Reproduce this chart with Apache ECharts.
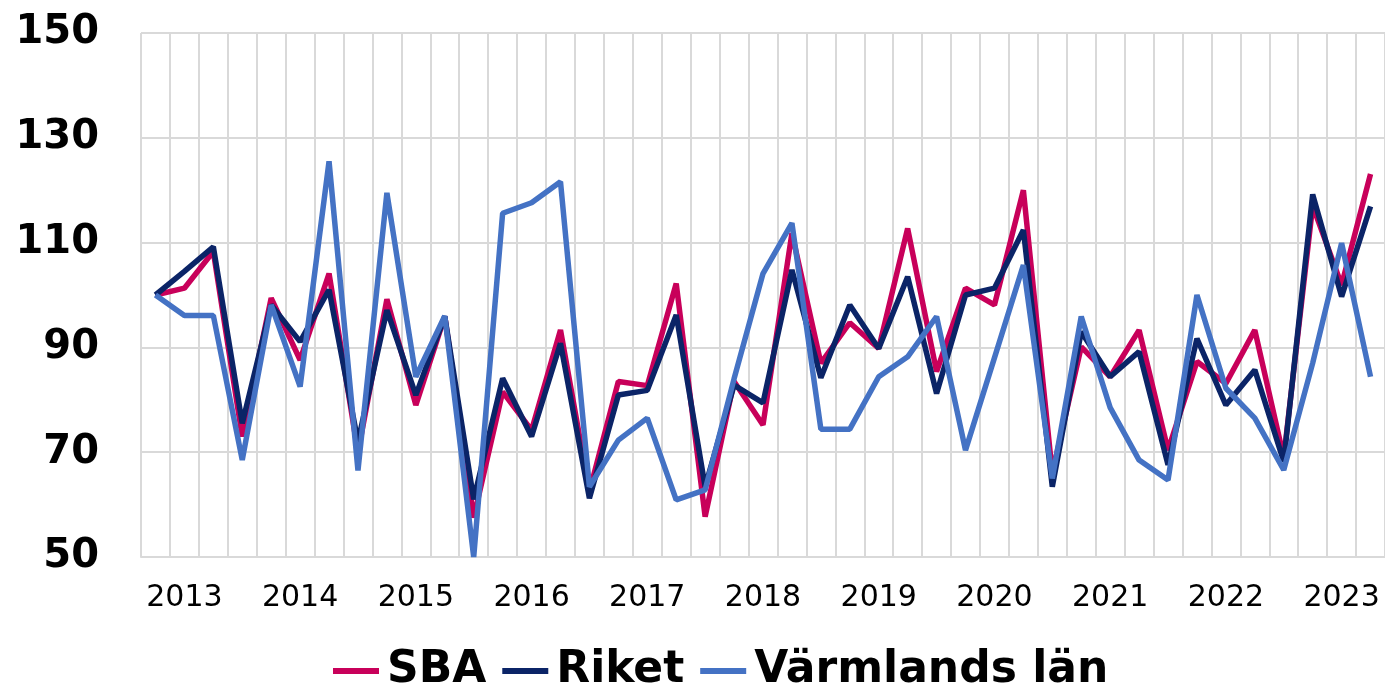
<!DOCTYPE html>
<html>
<head>
<meta charset="utf-8">
<script src="https://cdn.jsdelivr.net/npm/echarts@6/dist/echarts.min.js"></script>
<style>
html, body { margin: 0; padding: 0; background: #fff; }
#chart { width: 1385px; height: 690px; }
</style>
</head>
<body>
<div id="chart"></div>
<script>
// kvartal 2013 K1 - 2023 K3
const years = ['2013', '2014', '2015', '2016', '2017', '2018', '2019', '2020', '2021', '2022', '2023'];
const quartersInLastYear = 3;

const sba = [100, 101.3, 108.3, 73, 99.4, 87.6, 104.1, 70, 99.2, 79, 95.9, 57.5,
	81.5, 74.2, 93.3, 62.5, 83.5, 82.7, 102.2, 57.7, 83.5, 75.2, 111.8, 87,
	94.7, 89.8, 112.7, 85.4, 101.3, 98.1, 120, 66, 90.1, 84.4, 93.3, 70.4,
	87.3, 83.1, 93.3, 69, 117, 101.9, 123.1];
const riket = [100, 104.5, 109.2, 75.5, 98.1, 91.1, 101, 72, 97.1, 80.9, 95.9, 61,
	84.1, 73, 90.8, 61.2, 80.9, 81.8, 96.2, 63.4, 82.8, 79.4, 104.8, 84.2,
	98.1, 89.8, 103.5, 81.2, 100, 101.3, 112.4, 63.4, 93, 84.4, 89.2, 67.6,
	91.7, 79, 85.7, 68.2, 119.2, 99.7, 116.9];
const varmland = [100, 96.1, 96.1, 68.5, 98.1, 82.5, 125.5, 66.5, 119.5, 84.4, 96, 50,
	115.6, 117.6, 121.6, 63.4, 72.3, 76.5, 60.9, 62.8, 84, 104.1, 113.7, 74.4,
	74.4, 84.4, 88.2, 95.9, 70.4, 88, 105.7, 65, 95.9, 78.5, 68.5, 64.7,
	100, 82.2, 76.5, 66.6, 87, 109.9, 84.4];

const categories = [];
years.forEach((y, i) => {
	const n = i === years.length - 1 ? quartersInLastYear : 4;
	for (let q = 1; q <= n; q++) categories.push(y + ' K' + q);
});

const font = '"DejaVu Sans", sans-serif';
const gridColor = '#d9d9d9';

var myChart = echarts.init(document.getElementById('chart'));
let option = {
	animation: false,
	textStyle: { fontFamily: font },
	grid: {
		left: 141,
		right: 0,
		top: 33,
		bottom: 133,
		containLabel: false
	},
	legend: {
		top: 644,
		left: 328,
		icon: 'rect',
		itemWidth: 46,
		itemHeight: 6,
		itemGap: 16,
		textStyle: {
			fontFamily: font,
			fontSize: 44,
			fontWeight: 'bold',
			color: '#000',
			padding: [0, 0, 0, 3]
		}
	},
	xAxis: {
		type: 'category',
		data: categories,
		boundaryGap: true,
		axisLine: { show: true, lineStyle: { color: gridColor, width: 2 } },
		axisTick: { show: false },
		splitLine: { show: true, interval: 0, lineStyle: { color: gridColor, width: 2 } },
		axisLabel: {
			interval: function (index) { return index % 4 === 1; },
			formatter: function (value) { return value.split(' ')[0]; },
			margin: 26,
			fontSize: 30,
			color: '#000'
		}
	},
	yAxis: {
		type: 'value',
		min: 50,
		max: 150,
		interval: 20,
		axisLine: { show: false },
		axisTick: { show: false },
		splitLine: { lineStyle: { color: gridColor, width: 2 } },
		axisLabel: {
			margin: 42,
			fontSize: 40,
			fontWeight: 'bold',
			color: '#000'
		}
	},
	series: [
		{
			name: 'SBA',
			type: 'line',
			data: sba,
			showSymbol: false,
			lineStyle: { color: '#c8005a', width: 5.5 },
			itemStyle: { color: '#c8005a' }
		},
		{
			name: 'Riket',
			type: 'line',
			data: riket,
			showSymbol: false,
			lineStyle: { color: '#0b2467', width: 5.5 },
			itemStyle: { color: '#0b2467' }
		},
		{
			name: 'Värmlands län',
			type: 'line',
			data: varmland,
			showSymbol: false,
			lineStyle: { color: '#4472c4', width: 5.5 },
			itemStyle: { color: '#4472c4' }
		}
	]
};
myChart.setOption(option);
</script>
</body>
</html>
